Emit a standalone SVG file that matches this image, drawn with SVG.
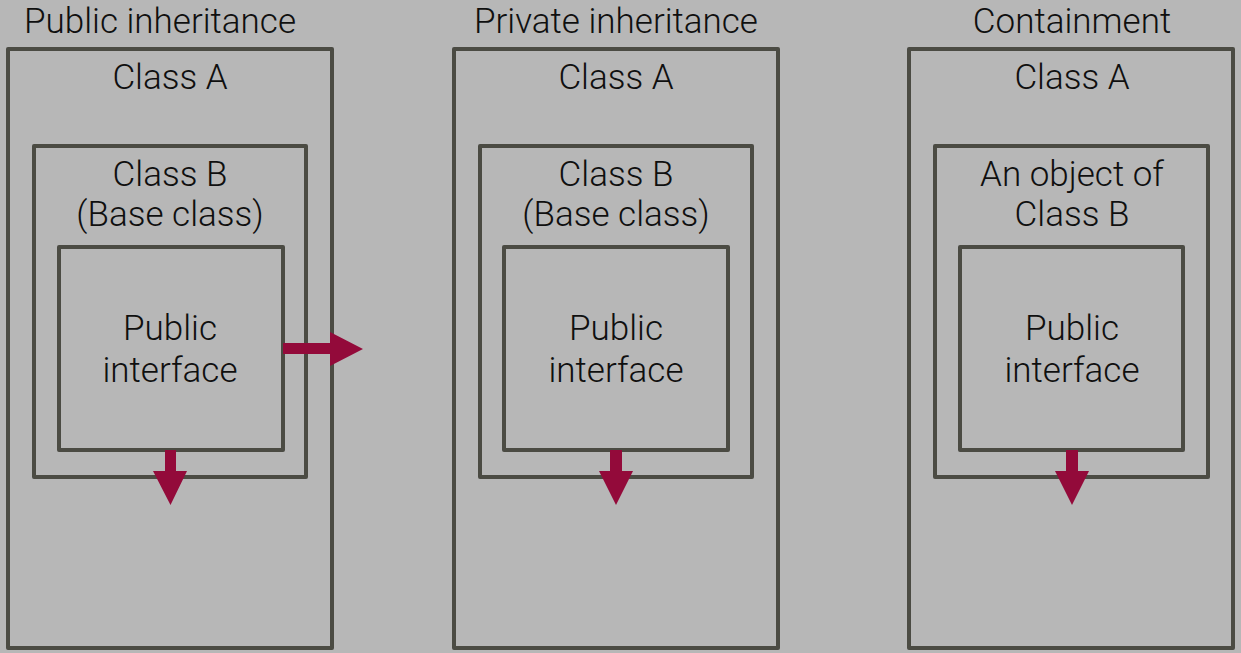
<svg xmlns="http://www.w3.org/2000/svg" width="1241" height="653" viewBox="0 0 1241 653">
<style>
.box{fill:none;stroke:#4b4b43;stroke-width:4;stroke-linejoin:round}
text{font-family:Roboto,"Liberation Sans",sans-serif;font-weight:300;font-size:35px;fill:#0f0f0f;text-anchor:middle}
.arr{fill:#930a3a}
</style>
<rect width="1241" height="653" fill="#b7b7b7"/>
<g id="panel-public">
<text x="160" y="33">Public inheritance</text>
<rect class="box" x="8" y="49" width="324" height="599"/>
<text x="170" y="89">Class A</text>
</g>
<g id="public-classB">
<rect class="box" x="34" y="146" width="272" height="331"/>
<text x="170" y="186">Class B</text>
<text x="170" y="226">(Base class)</text>
</g>
<g id="public-interface">
<rect class="box" x="59" y="247" width="224" height="203"/>
<text x="170" y="340">Public</text>
<text x="170" y="382">interface</text>
</g>
<g id="panel-private">
<text x="616" y="33">Private inheritance</text>
<rect class="box" x="454" y="49" width="324" height="599"/>
<text x="616" y="89">Class A</text>
</g>
<g id="private-classB">
<rect class="box" x="480" y="146" width="272" height="331"/>
<text x="616" y="186">Class B</text>
<text x="616" y="226">(Base class)</text>
</g>
<g id="private-interface">
<rect class="box" x="504" y="247" width="224" height="203"/>
<text x="616" y="340">Public</text>
<text x="616" y="382">interface</text>
</g>
<g id="panel-containment">
<text x="1072" y="33">Containment</text>
<rect class="box" x="909" y="49" width="324" height="599"/>
<text x="1072" y="89">Class A</text>
</g>
<g id="containment-objectB">
<rect class="box" x="935" y="146" width="273" height="331"/>
<text x="1072" y="186">An object of</text>
<text x="1072" y="226">Class B</text>
</g>
<g id="containment-interface">
<rect class="box" x="960" y="247" width="223" height="203"/>
<text x="1072" y="340">Public</text>
<text x="1072" y="382">interface</text>
</g>
<g id="connectors">
<path class="arr" d="M165 450 H176 V471 H187 L170.5 505 L153 471 H165 Z"/>
<path class="arr" d="M283 343 H330 V332 L363 349 L330 366 V354 H283 Z"/>
<path class="arr" d="M610 450 H622 V471 H633 L616 505 L599 471 H610 Z"/>
<path class="arr" d="M1066 450 H1078 V471 H1089 L1072 505 L1055 471 H1066 Z"/>
</g>
</svg>
